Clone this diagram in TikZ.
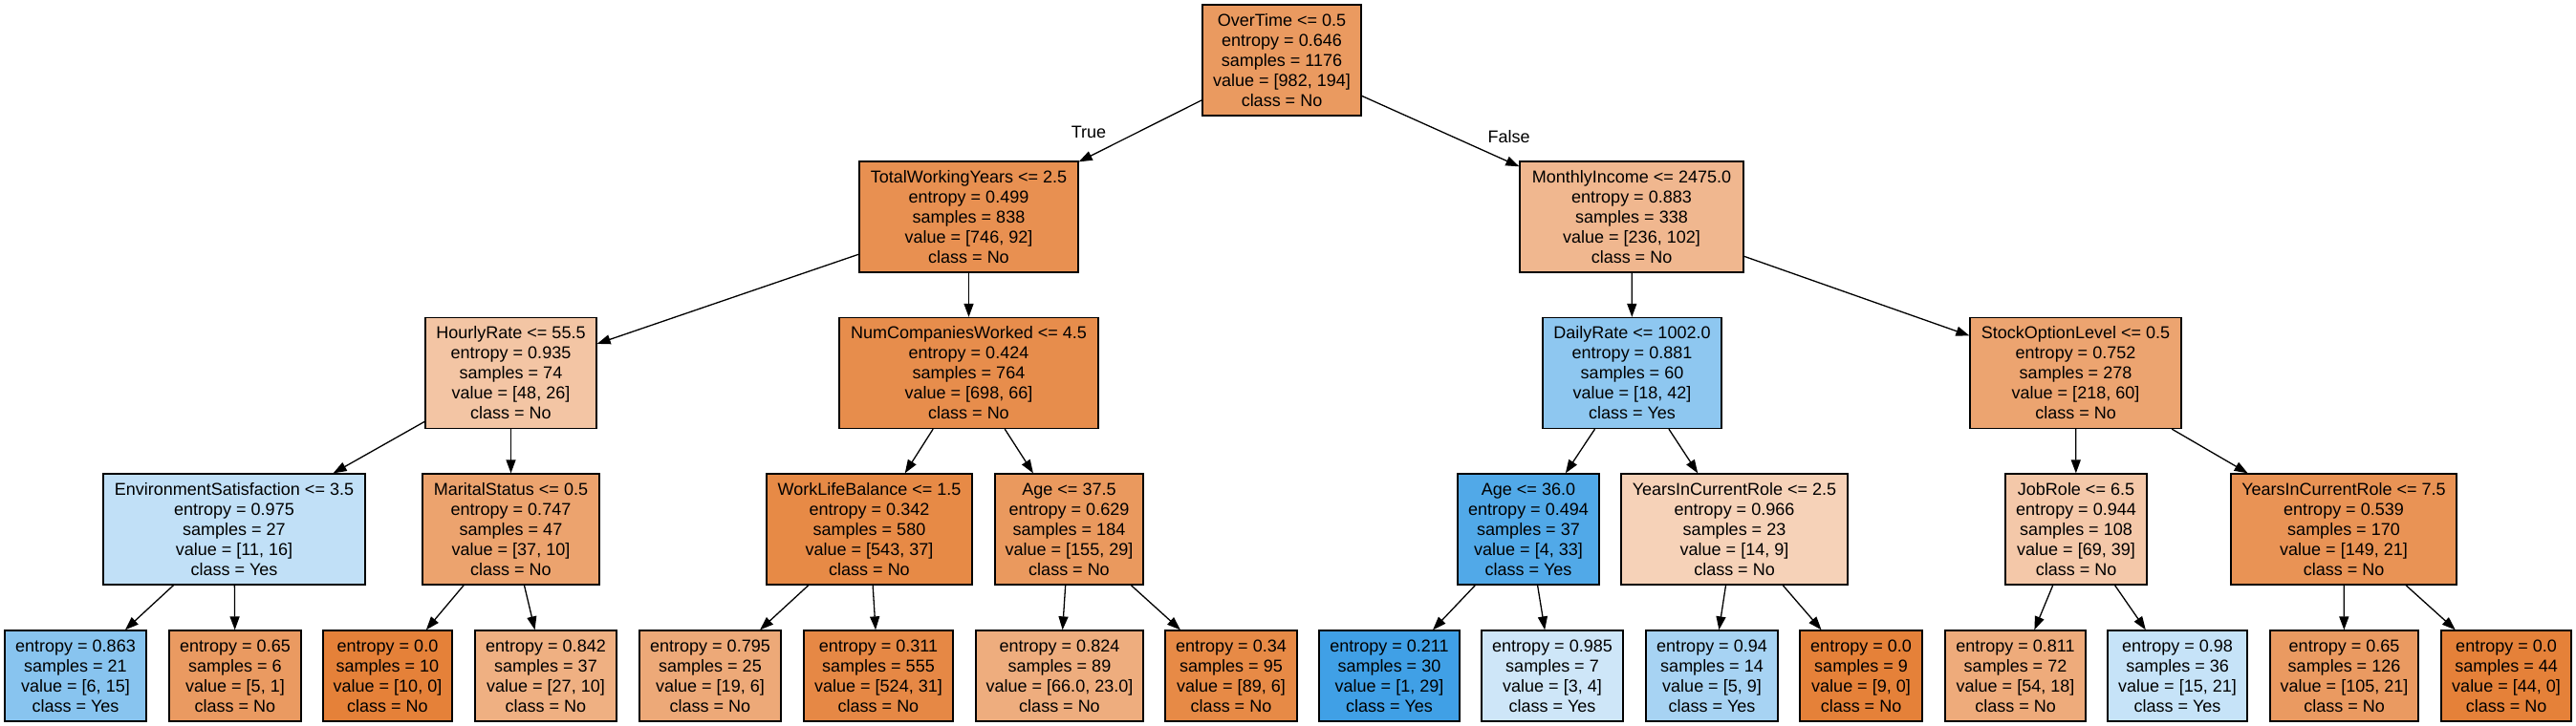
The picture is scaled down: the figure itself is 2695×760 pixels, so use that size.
\documentclass[tikz,border=0pt]{standalone}
\usepackage{fontspec}
\setmainfont{Liberation Sans}
\usetikzlibrary{arrows.meta}
\definecolor{cN0}{RGB}{234,154,96}
\definecolor{cTWY}{RGB}{232,144,81}
\definecolor{cMI}{RGB}{240,183,143}
\definecolor{cHR}{RGB}{243,197,164}
\definecolor{cNC}{RGB}{231,141,76}
\definecolor{cDR}{RGB}{142,199,240}
\definecolor{cSO}{RGB}{236,164,112}
\definecolor{cES}{RGB}{193,224,247}
\definecolor{cMS}{RGB}{236,163,110}
\definecolor{cWLB}{RGB}{231,138,70}
\definecolor{cAa}{RGB}{234,153,94}
\definecolor{cAb}{RGB}{81,169,232}
\definecolor{cYa}{RGB}{246,210,184}
\definecolor{cJR}{RGB}{244,200,169}
\definecolor{cYb}{RGB}{233,147,85}
\definecolor{cLa}{RGB}{136,196,239}
\definecolor{cLb}{RGB}{234,154,97}
\definecolor{cPure}{RGB}{229,129,57}
\definecolor{cLd}{RGB}{239,176,130}
\definecolor{cLe}{RGB}{237,169,120}
\definecolor{cLf}{RGB}{230,136,69}
\definecolor{cLg}{RGB}{238,173,126}
\definecolor{cLh}{RGB}{231,138,70}
\definecolor{cLi}{RGB}{64,160,230}
\definecolor{cLj}{RGB}{206,230,248}
\definecolor{cLk}{RGB}{167,211,243}
\definecolor{cLm}{RGB}{238,171,123}
\definecolor{cLn}{RGB}{198,227,248}
\begin{document}
\begin{tikzpicture}[x=1pt,y=-1pt,
  tree/.style={draw=black, line width=1.3pt, rectangle, align=center, inner sep=0pt,
    font=\fontsize{18}{21}\selectfont, minimum height=116pt},
  leaf/.style={tree, minimum height=95pt},
  edge/.style={draw=black, line width=1.3pt, -{Triangle[length=14pt,width=10pt]}},
  elabel/.style={font=\fontsize{18}{21}\selectfont, inner sep=0pt}]
\useasboundingbox (0,0) rectangle (2695,760);
% level 1-2
\node[tree, fill=cN0, minimum width=166pt] (n0) at (1341,63) {OverTime <= 0.5\\entropy = 0.646\\samples = 1176\\value = [982, 194]\\class = No};
\node[tree, fill=cTWY, minimum width=229pt] (twy) at (1013.5,227) {TotalWorkingYears <= 2.5\\entropy = 0.499\\samples = 838\\value = [746, 92]\\class = No};
\node[tree, fill=cMI, minimum width=234pt] (mi) at (1707,227) {MonthlyIncome <= 2475.0\\entropy = 0.883\\samples = 338\\value = [236, 102]\\class = No};
% level 3
\node[tree, fill=cHR, minimum width=179pt] (hr) at (534.5,390.5) {HourlyRate <= 55.5\\entropy = 0.935\\samples = 74\\value = [48, 26]\\class = No};
\node[tree, fill=cNC, minimum width=271pt] (nc) at (1013.5,390.5) {NumCompaniesWorked <= 4.5\\entropy = 0.424\\samples = 764\\value = [698, 66]\\class = No};
\node[tree, fill=cDR, minimum width=187pt] (dr) at (1707.5,390.5) {DailyRate <= 1002.0\\entropy = 0.881\\samples = 60\\value = [18, 42]\\class = Yes};
\node[tree, fill=cSO, minimum width=221pt] (so) at (2171.5,390.5) {StockOptionLevel <= 0.5\\entropy = 0.752\\samples = 278\\value = [218, 60]\\class = No};
% level 4
\node[tree, fill=cES, minimum width=274pt] (es) at (245,554) {EnvironmentSatisfaction <= 3.5\\entropy = 0.975\\samples = 27\\value = [11, 16]\\class = Yes};
\node[tree, fill=cMS, minimum width=185pt] (ms) at (534.5,554) {MaritalStatus <= 0.5\\entropy = 0.747\\samples = 47\\value = [37, 10]\\class = No};
\node[tree, fill=cWLB, minimum width=215pt] (wlb) at (909.5,554) {WorkLifeBalance <= 1.5\\entropy = 0.342\\samples = 580\\value = [543, 37]\\class = No};
\node[tree, fill=cAa, minimum width=155pt] (aa) at (1118.5,554) {Age <= 37.5\\entropy = 0.629\\samples = 184\\value = [155, 29]\\class = No};
\node[tree, fill=cAb, minimum width=148pt] (ab) at (1599,554) {Age <= 36.0\\entropy = 0.494\\samples = 37\\value = [4, 33]\\class = Yes};
\node[tree, fill=cYa, minimum width=237pt] (ya) at (1814.5,554) {YearsInCurrentRole <= 2.5\\entropy = 0.966\\samples = 23\\value = [14, 9]\\class = No};
\node[tree, fill=cJR, minimum width=148pt] (jr) at (2172,554) {JobRole <= 6.5\\entropy = 0.944\\samples = 108\\value = [69, 39]\\class = No};
\node[tree, fill=cYb, minimum width=236pt] (yb) at (2452,554) {YearsInCurrentRole <= 7.5\\entropy = 0.539\\samples = 170\\value = [149, 21]\\class = No};
% leaves
\node[leaf, fill=cLa, minimum width=148pt] (l1) at (79,707.5) {entropy = 0.863\\samples = 21\\value = [6, 15]\\class = Yes};
\node[leaf, fill=cLb, minimum width=138pt] (l2) at (246,707.5) {entropy = 0.65\\samples = 6\\value = [5, 1]\\class = No};
\node[leaf, fill=cPure, minimum width=135pt] (l3) at (405.5,707.5) {entropy = 0.0\\samples = 10\\value = [10, 0]\\class = No};
\node[leaf, fill=cLd, minimum width=148pt] (l4) at (571,707.5) {entropy = 0.842\\samples = 37\\value = [27, 10]\\class = No};
\node[leaf, fill=cLe, minimum width=148pt] (l5) at (743,707.5) {entropy = 0.795\\samples = 25\\value = [19, 6]\\class = No};
\node[leaf, fill=cLf, minimum width=156pt] (l6) at (919,707.5) {entropy = 0.311\\samples = 555\\value = [524, 31]\\class = No};
\node[leaf, fill=cLg, minimum width=175pt] (l7) at (1108.5,707.5) {entropy = 0.824\\samples = 89\\value = [66.0, 23.0]\\class = No};
\node[leaf, fill=cLh, minimum width=138pt] (l8) at (1288,707.5) {entropy = 0.34\\samples = 95\\value = [89, 6]\\class = No};
\node[leaf, fill=cLi, minimum width=147pt] (l9) at (1453.5,707.5) {entropy = 0.211\\samples = 30\\value = [1, 29]\\class = Yes};
\node[leaf, fill=cLj, minimum width=148pt] (l10) at (1624,707.5) {entropy = 0.985\\samples = 7\\value = [3, 4]\\class = Yes};
\node[leaf, fill=cLk, minimum width=138pt] (l11) at (1791,707.5) {entropy = 0.94\\samples = 14\\value = [5, 9]\\class = Yes};
\node[leaf, fill=cPure, minimum width=128pt] (l12) at (1947,707.5) {entropy = 0.0\\samples = 9\\value = [9, 0]\\class = No};
\node[leaf, fill=cLm, minimum width=147pt] (l13) at (2108.5,707.5) {entropy = 0.811\\samples = 72\\value = [54, 18]\\class = No};
\node[leaf, fill=cLn, minimum width=146pt] (l14) at (2278,707.5) {entropy = 0.98\\samples = 36\\value = [15, 21]\\class = Yes};
\node[leaf, fill=cLb, minimum width=155pt] (l15) at (2452.5,707.5) {entropy = 0.65\\samples = 126\\value = [105, 21]\\class = No};
\node[leaf, fill=cPure, minimum width=136pt] (l16) at (2622,707.5) {entropy = 0.0\\samples = 44\\value = [44, 0]\\class = No};
% edge labels
\node[elabel] (ltrue) at (1139,138) {True};
\node[elabel] (lfalse) at (1578.5,143.5) {False};
% edges
\draw[edge] (n0) -- (twy);
\draw[edge] (n0) -- (mi);
\draw[edge] (twy) -- (hr);
\draw[edge] (twy) -- (nc);
\draw[edge] (mi) -- (dr);
\draw[edge] (mi) -- (so);
\draw[edge] (hr) -- (es);
\draw[edge] (hr) -- (ms);
\draw[edge] (nc) -- (wlb);
\draw[edge] (nc) -- (aa);
\draw[edge] (dr) -- (ab);
\draw[edge] (dr) -- (ya);
\draw[edge] (so) -- (jr);
\draw[edge] (so) -- (yb);
\draw[edge] (es) -- (l1);
\draw[edge] (es) -- (l2);
\draw[edge] (ms) -- (l3);
\draw[edge] (ms) -- (l4);
\draw[edge] (wlb) -- (l5);
\draw[edge] (wlb) -- (l6);
\draw[edge] (aa) -- (l7);
\draw[edge] (aa) -- (l8);
\draw[edge] (ab) -- (l9);
\draw[edge] (ab) -- (l10);
\draw[edge] (ya) -- (l11);
\draw[edge] (ya) -- (l12);
\draw[edge] (jr) -- (l13);
\draw[edge] (jr) -- (l14);
\draw[edge] (yb) -- (l15);
\draw[edge] (yb) -- (l16);
\end{tikzpicture}
\end{document}
